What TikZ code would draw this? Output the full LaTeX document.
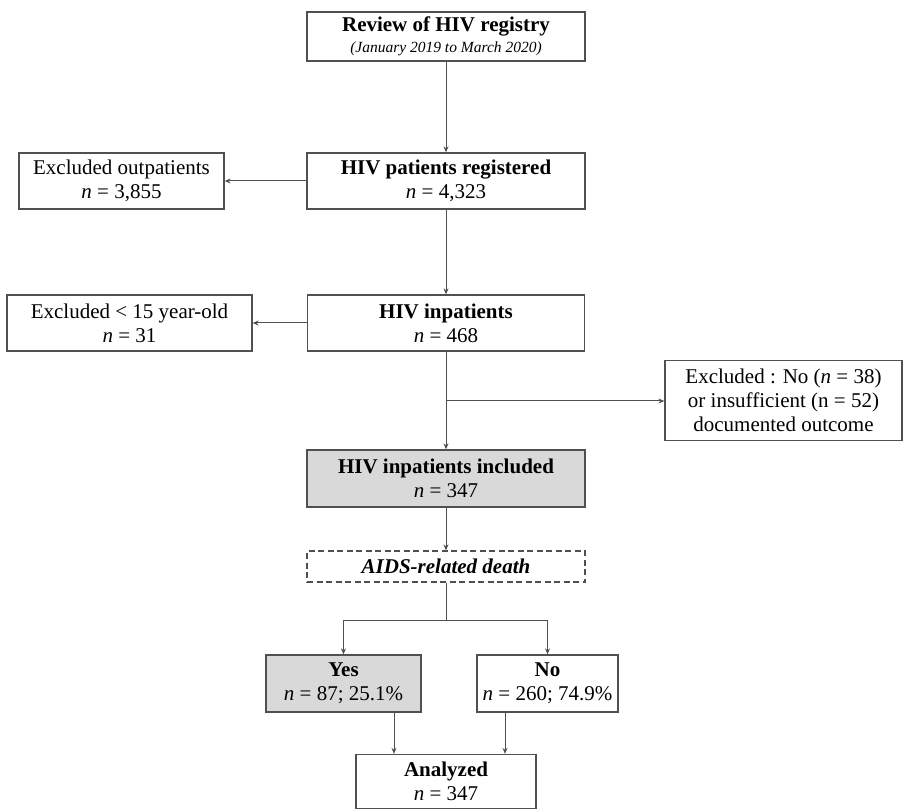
\documentclass[tikz,border=0pt]{standalone}
\usepackage{fontspec}
\setmainfont{Liberation Serif}
\usetikzlibrary{arrows.meta}
\definecolor{edgegray}{HTML}{505050}
\definecolor{fillgray}{HTML}{D9D9D9}
\tikzset{
  x=1pt, y=-1pt,
  box/.style={draw=edgegray, line width=1.3pt, align=center, inner sep=0pt,
              font=\fontsize{21}{24}\selectfont, text=black, anchor=center},
  gbox/.style={box, fill=fillgray},
  conn/.style={draw=edgegray, line width=1pt, -{Stealth[length=6pt,width=5pt]}},
  plain/.style={draw=edgegray, line width=1pt},
}
\begin{document}
\begin{tikzpicture}
\useasboundingbox (0,0) rectangle (903,810);
\node[box, minimum width=278, minimum height=49] (rev) at (446,36.5)
  {\textbf{Review of HIV registry}\\[-3pt]{\fontsize{15.5}{18}\selectfont\itshape (January 2019 to March 2020)}};
\node[box, minimum width=278, minimum height=56] (reg) at (446,181)
  {\textbf{HIV patients registered}\\\textit{n} = 4,323};
\node[box, minimum width=205, minimum height=56] (out) at (121.5,181)
  {Excluded outpatients\\\textit{n} = 3,855};
\node[box, minimum width=277, minimum height=56] (inp) at (446,323)
  {\textbf{HIV inpatients}\\\textit{n} = 468};
\node[box, minimum width=245, minimum height=56] (ex15) at (129.5,323)
  {Excluded < 15 year-old\\\textit{n} = 31};
\node[box, minimum width=237, minimum height=80] (exr) at (783.5,400.5)
  {Excluded : No (\textit{n} = 38)\\or insufficient (n = 52)\\documented outcome};
\node[gbox, minimum width=278, minimum height=57] (inc) at (446,478.5)
  {\textbf{HIV inpatients included}\\\textit{n} = 347};
\node[box, dash pattern=on 6pt off 3.5pt, minimum width=278, minimum height=31] (aids) at (446,566.5)
  {\textbf{\textit{AIDS-related death}}};
\node[gbox, minimum width=155, minimum height=57] (yes) at (343.5,683.5)
  {\textbf{Yes}\\\textit{n} = 87; 25.1\%};
\node[box, minimum width=141, minimum height=57] (no) at (547.5,683.5)
  {\textbf{No}\\\textit{n} = 260; 74.9\%};
\node[box, minimum width=180, minimum height=54] (ana) at (446,781.5)
  {\textbf{Analyzed}\\\textit{n} = 347};

\coordinate (br) at (446,401);
\coordinate (sp) at (446,620);

\draw[conn] (rev) -- (reg);
\draw[conn] (reg) -- (out);
\draw[conn] (reg) -- (inp);
\draw[conn] (inp) -- (ex15);
\draw[conn] (inp) -- (inc);
\draw[conn] (br) -- (exr.west |- br);
\draw[conn] (inc) -- (aids);
\draw[plain] (aids) -- (sp);
\draw[conn] (sp) -| (yes);
\draw[conn] (sp) -| (no);
\draw[conn] (yes.south -| 394,0) -- (ana.north -| 394,0);
\draw[conn] (no.south -| 505,0) -- (ana.north -| 505,0);
\end{tikzpicture}
\end{document}
